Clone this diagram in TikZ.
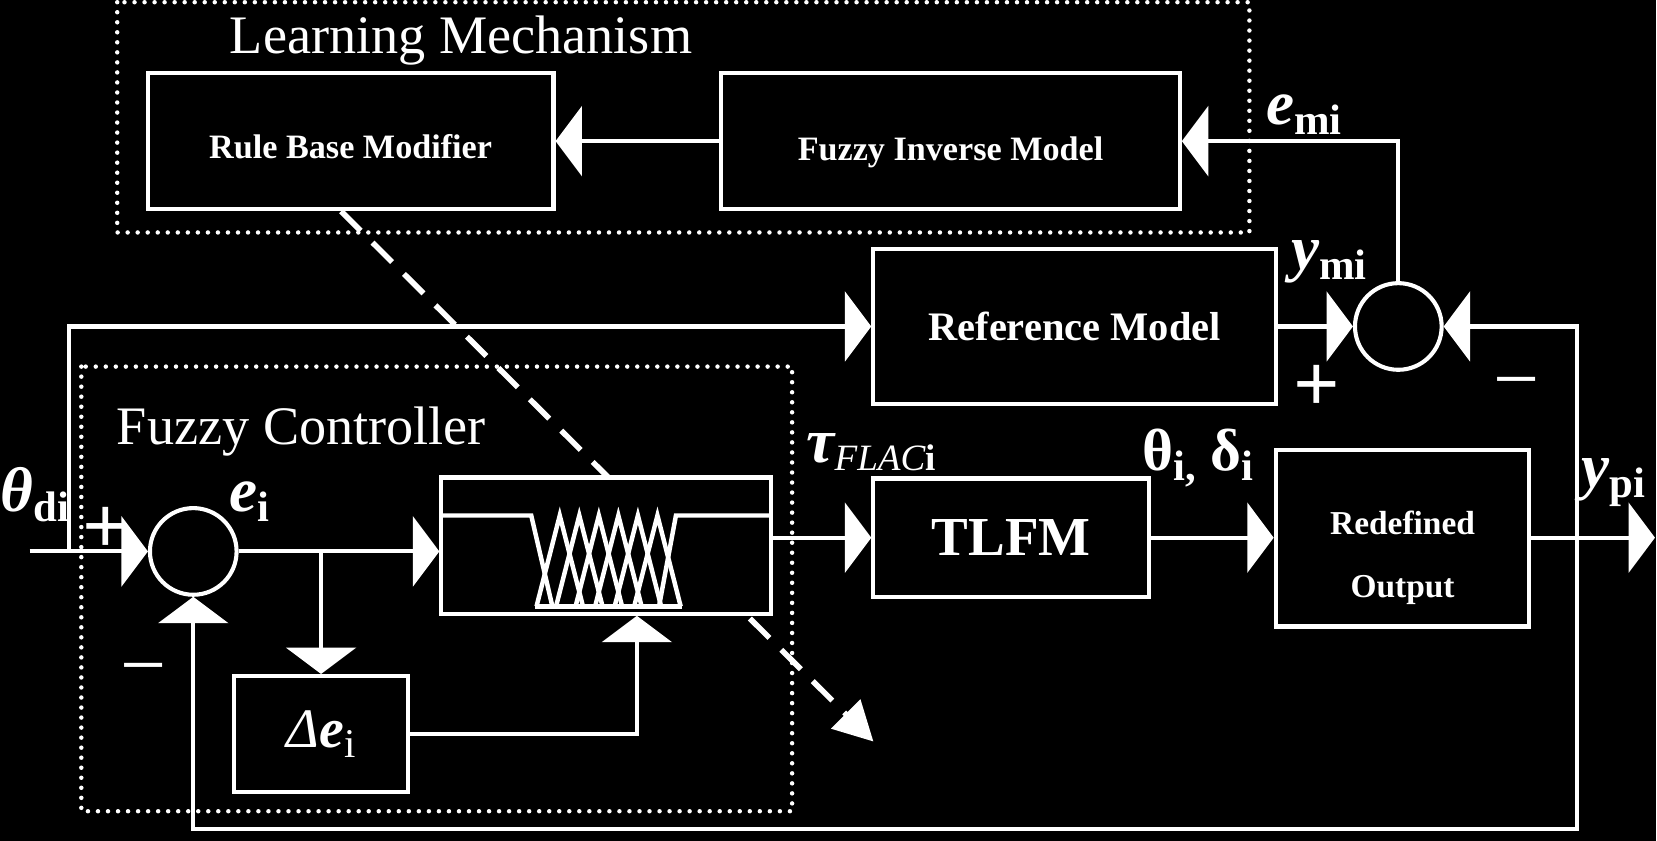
\documentclass[tikz,border=0pt]{standalone}
\usepackage{fontspec}
\setmainfont{Liberation Serif}
\usetikzlibrary{arrows.meta}
\pgfdeclarelayer{back}
\pgfdeclarelayer{under}
\pgfsetlayers{back,under,main}

\tikzset{
  blk/.style={draw=white, fill=black, line width=1.1pt, text=white, align=center, inner sep=0pt},
  sumc/.style={circle, draw=white, fill=black, line width=1.1pt, minimum size=0.82cm, inner sep=0pt},
  grp/.style={draw=white, line width=1.2pt, dash pattern=on 0pt off 2.7pt, line cap=round},
  sig/.style={draw=white, line width=1.1pt, -{Triangle[length=0.25cm,width=0.66cm]}},
  mf/.style={draw=white, line width=1.2pt},
  lbl/.style={text=white, inner sep=0pt},
  learnarrow/.style={draw=white, line width=1.5pt, dash pattern=on 0.26cm off 0.16cm, -{Triangle[length=0.37cm,width=0.38cm]}},
}
\newcommand{\sgl}[2]{{\fontsize{17}{17}\selectfont\bfseries\itshape #1}\raisebox{-2.7pt}{\fontsize{11.5}{11.5}\selectfont\bfseries #2}}

\begin{document}
\begin{tikzpicture}[x=0.01cm, y=-0.01cm]
	\begin{pgfonlayer}{back}
		\fill[black] (0,0) rectangle (1568,796);
	\end{pgfonlayer}

	% learning mechanism
	\draw[grp] (111,2) rectangle (1183,220);
	\node[lbl, anchor=base west] (lmtitle) at (217,51) {\fontsize{14.6}{15}\selectfont Learning Mechanism};
	\node[blk, minimum width=3.84cm, minimum height=1.29cm, text height=9.2pt, text depth=0pt] (rbm) at (332,133.5) {\fontsize{9.2}{11}\selectfont\bfseries Rule Base Modifier};
	\node[blk, minimum width=4.34cm, minimum height=1.29cm, text height=10.4pt, text depth=0pt] (fim) at (900,133.5) {\fontsize{9.2}{11}\selectfont\bfseries Fuzzy Inverse Model};

	% fuzzy controller
	\draw[grp] (77,347) rectangle (750,768);
	\node[lbl, anchor=base west] (fctitle) at (110,421) {\fontsize{14.6}{15}\selectfont Fuzzy Controller};
	\node[sumc] (suml) at (183,522) {};
	\node[blk, minimum width=3.12cm, minimum height=1.29cm] (fuzzy) at (574,516.5) {};
	\node[blk, minimum width=1.64cm, minimum height=1.10cm] (dele) at (304,695) {{\fontsize{15}{15}\selectfont\itshape Δ\bfseries e}\raisebox{-2.5pt}{\fontsize{11}{11}\selectfont i}};

	% plant side
	\node[blk, minimum width=3.81cm, minimum height=1.47cm] (refm) at (1017.5,309) {\fontsize{10.9}{12}\selectfont\bfseries Reference Model};
	\node[sumc] (sumr) at (1324,309) {};
	\node[blk, minimum width=2.61cm, minimum height=1.12cm] (tlfm) at (957.5,509) {\fontsize{14.8}{15}\selectfont\bfseries TLFM};
	\node[blk, minimum width=2.40cm, minimum height=1.67cm] (redo) at (1328,509.5) {\raisebox{-0.223cm}[0pt][0pt]{\fontsize{9}{17}\selectfont\bfseries\begin{tabular}{@{}c@{}}Redefined\\Output\end{tabular}}};

	% membership functions
	\draw[mf] (418,488) -- (503,488) -- (523,574);
	\draw[mf] (730,488) -- (640,488) -- (624,574);
	\draw[mf] (507,574) -- (646,574);
	\foreach \p in {530,548.5,567,585.5,604,622.5}
		\draw[mf] (\p-22,574) -- (\p,488) -- (\p+22,574);

	\coordinate (thin) at (28,522);
	\coordinate (thbr) at (65,522);
	\coordinate (ybr) at (1493,509);
	\coordinate (fbb) at (1493,785);
	\coordinate (yout) at (1567,509);
	\coordinate (lrnend) at (827,702);

	% signals
	\draw[sig] (thin) -- (suml.west);
	\draw[sig] (thbr) |- (refm.west);
	\draw[sig] (suml.east) -- (fuzzy.west |- suml.east);
	\draw[sig] (dele.north |- suml.east) -- (dele.north);
	\draw[sig] (dele.east) -| ([xshift=0.29cm]fuzzy.south);
	\draw[sig] (fuzzy.east |- tlfm.west) -- (tlfm.west);
	\draw[sig] (tlfm.east) -- (redo.west |- tlfm.east);
	\draw[sig] (redo.east |- ybr) -- (yout);
	\draw[sig] (refm.east) -- (sumr.west);
	\draw[sig] (ybr) |- (sumr.east);
	\draw[sig] (ybr) -- (fbb) -| (suml.south);
	\draw[sig] (sumr.north) |- (fim.east);
	\draw[sig] (fim.west) -- (rbm.east);

	\begin{pgfonlayer}{under}
		\draw[learnarrow] ([xshift=-0.09cm]rbm.south) -- (lrnend);
	\end{pgfonlayer}

	% labels
	\node[lbl, anchor=base west] (thdi) at (0,484) {\sgl{θ}{di}};
	\node[lbl, anchor=base west] (ei) at (217,484) {\sgl{e}{i}};
	\node[lbl, anchor=base west] (emi) at (1198,118) {\sgl{e}{mi}};
	\node[lbl, anchor=base west] (ymi) at (1222,255) {\sgl{y}{mi}};
	\node[lbl, anchor=base west] (ypi) at (1497,461) {\sgl{y}{pi}};
	\node[lbl, anchor=base west] (tau) at (763,438) {{\fontsize{17}{17}\selectfont\bfseries\itshape τ}\raisebox{-2pt}{\fontsize{10}{10}\selectfont\itshape FLAC\upshape\bfseries i}};
	\node[lbl, anchor=base west] (thdl) at (1081,445) {\fontsize{16}{16}\selectfont\bfseries θ\raisebox{-2.7pt}{\fontsize{11.5}{11.5}\selectfont i,} δ\raisebox{-2.7pt}{\fontsize{11.5}{11.5}\selectfont i}};
	\node[lbl] (plusl) at (100,502) {\fontsize{22}{22}\selectfont\bfseries +};
	\node[lbl] (minusl) at (136,642) {\fontsize{22}{22}\selectfont −};
	\node[lbl] (plusr) at (1247,368) {\fontsize{22}{22}\selectfont\bfseries +};
	\node[lbl] (minusr) at (1436,371) {\fontsize{22}{22}\selectfont −};
\end{tikzpicture}
\end{document}
